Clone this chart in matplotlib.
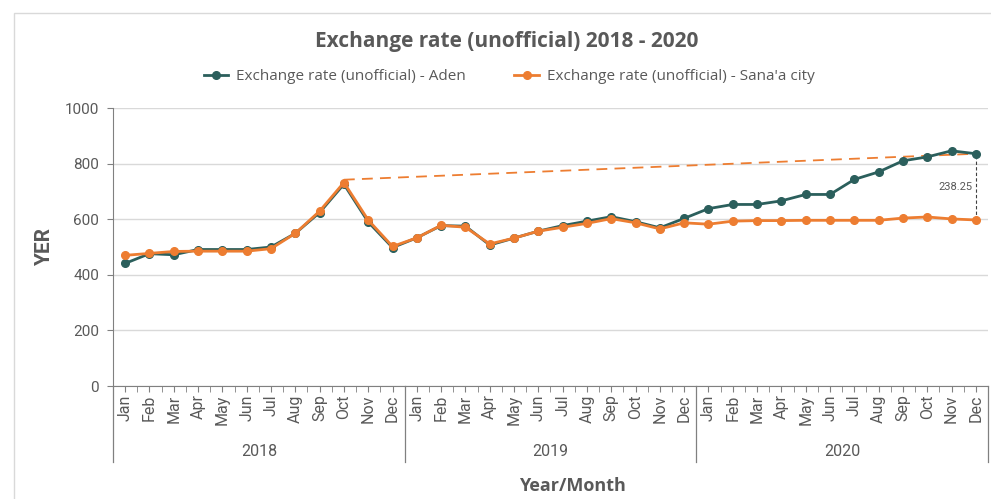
import numpy as np
import matplotlib
matplotlib.use("Agg")
from matplotlib import pyplot as plt
from matplotlib.patches import Rectangle
from matplotlib.lines import Line2D
import matplotlib.transforms as mtransforms

months = ["Jan", "Feb", "Mar", "Apr", "May", "Jun", "Jul", "Aug", "Sep", "Oct", "Nov", "Dec"]
years = ["2018", "2019", "2020"]

aden = [441, 476, 472, 491, 491, 491, 500, 549, 624, 726, 590, 498,
        533, 577, 575, 507, 532, 557, 577, 593, 609, 591, 569, 603,
        638, 653, 653, 666, 689, 689, 743, 770, 810, 824, 846, 835.5]
sanaa = [470, 477, 484, 485, 485, 485, 494, 549, 629, 732, 597, 502,
         533, 578, 571, 511, 532, 557, 571, 585, 602, 587, 565, 587,
         582, 593, 595, 595, 596, 596, 596, 596, 604, 608, 601, 597.25]
trend_start = 742     # dashed line from Oct 2018 peak
gap_label = "238.25"

GREEN = "#2b5f5c"
ORANGE = "#ed7d31"
TXT = "#595959"
GRID = "#d9d9d9"

plt.rcParams['font.family'] = ['Roboto', 'DejaVu Sans']

fig = plt.figure(figsize=(9.91, 4.99), dpi=100)
fig.patches.append(Rectangle((14 / 991, -0.1), 1.1, 1.1 - 13 / 499, transform=fig.transFigure,
                             fill=False, edgecolor="#d9d9d9", linewidth=1.0))

ax = fig.add_axes([113 / 991, 1 - 386 / 499, 875 / 991, 278 / 499])
x = np.arange(len(aden))

ax.plot(x, aden, color=GREEN, lw=2.0, marker="o", ms=5.5, zorder=3, label="Exchange rate (unofficial) - Aden")
ax.plot(x, sanaa, color=ORANGE, lw=2.0, marker="o", ms=5.5, zorder=4, label="Exchange rate (unofficial) - Sana'a city")

# dashed line from Oct 2018 to Dec 2020 and the gap marker
ax.plot([9, x[-1]], [trend_start, aden[-1]], color=ORANGE, lw=1.3, ls=(0, (6, 4)), zorder=2)
ax.plot([x[-1], x[-1]], [sanaa[-1], aden[-1]], color="#404040", lw=0.8, ls=(0, (3, 2)), zorder=2)
ax.text(x[-1] - 0.12, (sanaa[-1] + aden[-1]) / 2, gap_label, ha="right", va="center",
        fontsize=8, color=TXT)

ax.set_xlim(-0.5, len(aden) - 0.5)
ax.set_ylim(0, 1000)
ax.set_yticks(np.arange(0, 1001, 200))
ax.grid(axis="y", color=GRID, lw=1.0)
ax.set_axisbelow(True)
for s in ["top", "right"]:
    ax.spines[s].set_visible(False)
ax.spines["left"].set_color("#808080")
ax.spines["bottom"].set_color("#808080")
ax.tick_params(axis="y", colors="#808080", labelcolor=TXT, labelsize=11, length=4, pad=6)

labels = months * len(years)
ax.set_xticks(x)
ax.set_xticklabels(labels, rotation=90, fontsize=11.5, color=TXT)
ax.set_xticks(np.arange(-0.5, len(aden), 1), minor=True)
ax.tick_params(axis="x", which="both", length=4, color="#808080", pad=2)

# year groups
trans = mtransforms.blended_transform_factory(ax.transData, ax.transAxes)
for b in [-0.5, 11.5, 23.5, 35.5]:
    ax.add_line(Line2D([b, b], [0, -76 / 278], transform=trans, color="#808080", lw=0.9, clip_on=False))
for i, yr in enumerate(years):
    ax.text(i * 12 + 5.5, -65 / 278, yr, transform=trans, ha="center", va="center", fontsize=11.5, color=TXT)

ax.set_ylabel("YER", fontsize=15, fontweight="bold", color=TXT, labelpad=8)
fig.text(572 / 991, 1 - 486 / 499, "Year/Month", ha="center", va="center", fontsize=13,
         fontweight="bold", color=TXT, family="Open Sans")

fig.text(507 / 991, 1 - 41 / 499, "Exchange rate (unofficial) 2018 - 2020", ha="center", va="center",
         fontsize=15, fontweight="bold", color=TXT, family="Open Sans")
fig.legend(loc="center", bbox_to_anchor=(509 / 991, 1 - 77 / 499), ncol=2, frameon=False,
           labelcolor=TXT, handlelength=1.6, columnspacing=3.2, handletextpad=0.5,
           prop={"family": "Open Sans", "size": 11})

fig.savefig("out.png", dpi=100)
